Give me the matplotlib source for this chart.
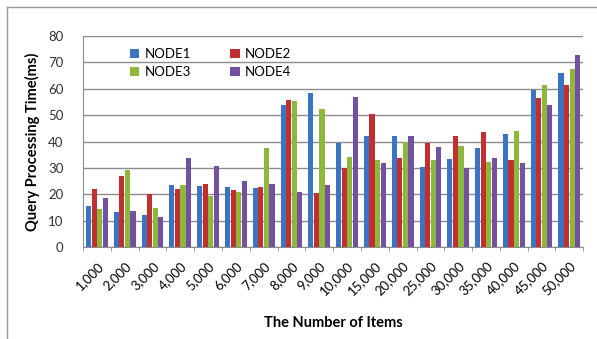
import numpy as np
import matplotlib
matplotlib.use("Agg")
import matplotlib.pyplot as plt
from matplotlib.lines import Line2D

items = ["1,000", "2,000", "3,000", "4,000", "5,000", "6,000", "7,000", "8,000", "9,000",
         "10,000", "15,000", "20,000", "25,000", "30,000", "35,000", "40,000", "45,000", "50,000"]

node1 = [15.6, 13.3, 12.0, 23.6, 23.2, 22.7, 22.4, 53.9, 58.2, 39.3, 42.0, 42.0, 30.4, 33.4, 37.7, 42.7, 59.7, 66.1]
node2 = [21.9, 27.0, 20.0, 21.9, 24.0, 21.5, 22.7, 55.7, 20.6, 29.8, 50.4, 33.8, 39.3, 42.0, 43.6, 32.9, 56.4, 61.6]
node3 = [14.4, 29.1, 15.0, 23.6, 19.5, 21.0, 37.7, 55.2, 52.5, 34.3, 32.9, 39.8, 32.9, 38.2, 32.3, 44.1, 61.6, 67.5]
node4 = [18.5, 13.7, 11.6, 33.9, 30.8, 24.9, 24.0, 21.0, 23.5, 56.8, 31.7, 42.0, 38.1, 29.9, 33.9, 32.0, 53.8, 72.7]

series = [("NODE1", node1, "#3b74c2"),
          ("NODE2", node2, "#c1302e"),
          ("NODE3", node3, "#8db83c"),
          ("NODE4", node4, "#7451a0")]

plt.rcParams['font.family'] = ['Lato', 'DejaVu Sans']

fig = plt.figure(figsize=(5.97, 3.39), dpi=100)
ax = fig.add_axes([0.139, 0.271, 0.838, 0.623])

x = np.arange(len(items))
w = 0.2
for i, (name, vals, col) in enumerate(series):
    ax.bar(x + (i - 1.5) * w, vals, width=w * 0.92, color=col, label=name, zorder=3)

ax.set_xlim(-0.5, len(items) - 0.5)
ax.set_ylim(0, 80)
ax.set_yticks(range(0, 81, 10))
ax.yaxis.grid(True, color="#8c8c8c", linewidth=1.0, zorder=0)
ax.tick_params(axis='y', length=0, labelsize=9.5, colors="#333333", pad=14)

ax.set_xticks(x)
ax.set_xticklabels(items, rotation=45, ha='right', rotation_mode='anchor', fontsize=9.5)
ax.tick_params(axis='x', which='major', length=0, pad=9)
ax.set_xticks(np.arange(-0.5, len(items), 1), minor=True)
ax.tick_params(axis='x', which='minor', length=3, color="#8c8c8c", direction='out')

for s in ["top", "right"]:
    ax.spines[s].set_visible(False)
ax.spines["left"].set_color("#8c8c8c")
ax.spines["bottom"].set_color("#8c8c8c")

ax.set_ylabel("Query Processing Time(ms)", fontsize=10.5, fontweight='bold', labelpad=6)
ax.set_xlabel("The Number of Items", fontsize=10.5, fontweight='bold', labelpad=13)

handles, labels = ax.get_legend_handles_labels()
order = [0, 2, 1, 3]
ax.legend([handles[k] for k in order], [labels[k] for k in order], ncol=2,
          loc='upper left', bbox_to_anchor=(0.07, 1.0), frameon=False,
          fontsize=9.5, handlelength=0.7, handleheight=0.7, handletextpad=0.4,
          columnspacing=3.0, labelspacing=0.45)

# outer frame of the picture
fig.add_artist(Line2D([0.012, 0.012], [0.0, 0.98], transform=fig.transFigure, color="#9a9a9a", lw=1))
fig.add_artist(Line2D([0.012, 1.0], [0.98, 0.98], transform=fig.transFigure, color="#9a9a9a", lw=1))

fig.savefig("out.png", dpi=100)
